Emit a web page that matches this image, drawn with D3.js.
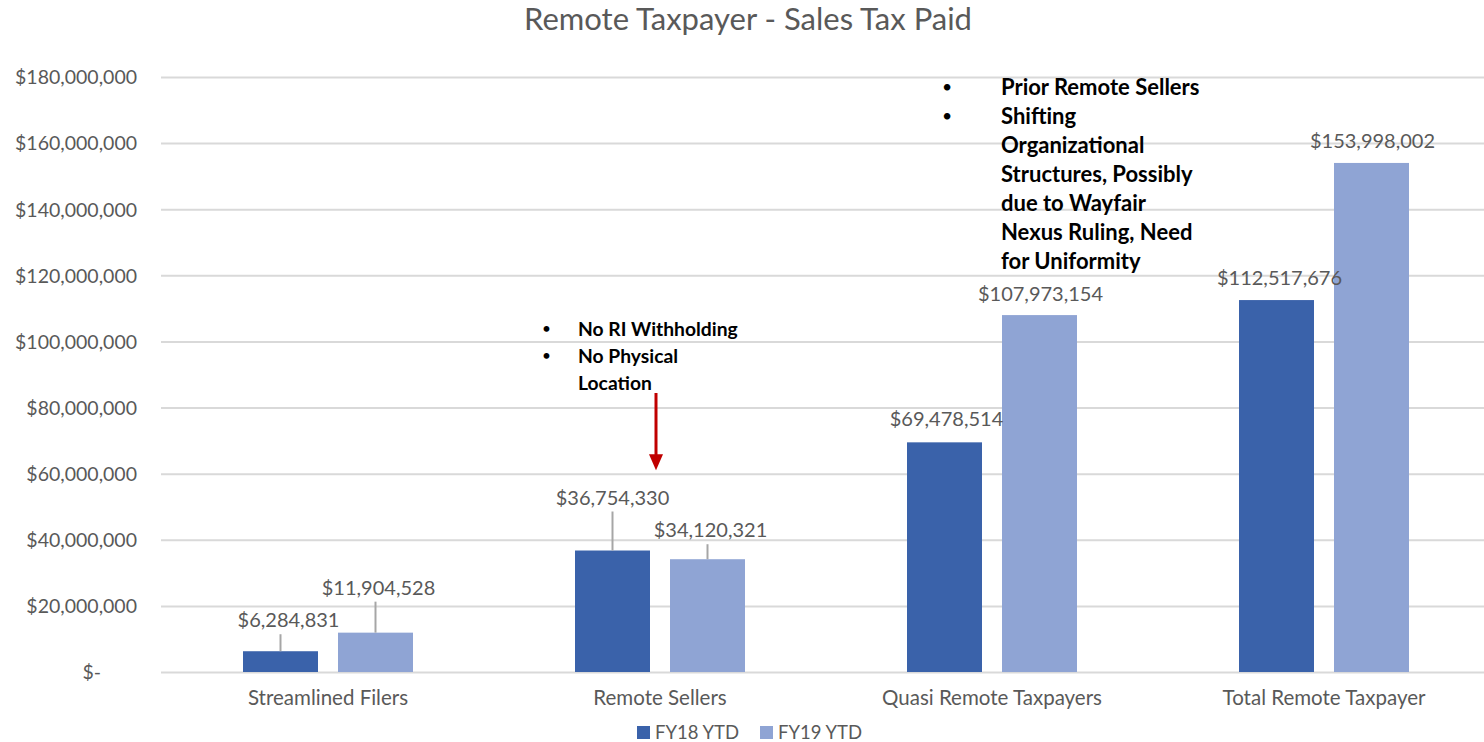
<!DOCTYPE html>
<html>
<head>
<meta charset="utf-8">
<script src="https://cdn.jsdelivr.net/npm/d3@7"></script>
<style>
  html, body { margin: 0; padding: 0; background: #fff; }
  svg { display: block; font-family: Lato, "Open Sans", sans-serif; }
</style>
</head>
<body>
<div id="chart"></div>
<script>
// data
const categories = ["Streamlined Filers", "Remote Sellers", "Quasi Remote Taxpayers", "Total Remote Taxpayer"];
const seriesNames = ["FY18 YTD", "FY19 YTD"];
const fy18 = [6284831, 36754330, 69478514, 112517676];
const fy19 = [11904528, 34120321, 107973154, 153998002];
const yTicks = [0, 20e6, 40e6, 60e6, 80e6, 100e6, 120e6, 140e6, 160e6, 180e6];
const noteRemote = ["No RI Withholding", "No Physical", "Location"];
const noteQuasi = ["Prior Remote Sellers", "Shifting", "Organizational", "Structures, Possibly",
                   "due to Wayfair", "Nexus Ruling, Need", "for Uniformity"];

// label nudges (pixels) as placed by hand in the original
const labelShift = [[[8, -31], [3, -45]], [[0, -53], [3, -29]], [[2, -23], [1, -21]], [[3, -22], [1, -22]]];

const W = 1484, H = 742;
const colors = ["#3A62AA", "#8FA4D4"];
const grey = "#595959";

const svg = d3.select("#chart").append("svg")
    .attr("width", W)
    .attr("height", H);

const x0 = d3.scaleBand().domain(categories).range([162, 1490]);
const x1 = d3.scaleBand().domain(seriesNames)
    .range([(x0.bandwidth() - 170) / 2, (x0.bandwidth() + 170) / 2])
    .paddingInner(20 / 95);
const y = d3.scaleLinear().domain([0, 180e6]).range([672, 77]);

// title
svg.append("text")
    .attr("x", 748)
    .attr("y", 19)
    .attr("dy", "0.35em")
    .attr("text-anchor", "middle")
    .style("font-size", "31px")
    .style("fill", grey)
    .text("Remote Taxpayer - Sales Tax Paid");

// gridlines + y labels
const yAxis = svg.append("g")
    .attr("transform", "translate(161,0)")
    .call(d3.axisLeft(y).tickValues(yTicks).tickSize(-(1490 - 161)).tickPadding(24)
        .tickFormat(d => d === 0 ? "$-" : "$" + d3.format(",")(d)));
yAxis.select(".domain").remove();
yAxis.selectAll(".tick line").attr("stroke", "#D9D9D9").attr("stroke-width", 2);
yAxis.selectAll(".tick text")
    .style("font-size", "19.5px")
    .style("font-family", "Lato, sans-serif")
    .attr("fill", grey)
    .attr("dy", "0.35em");
// "$-" sits further left in the original
yAxis.selectAll(".tick text").filter(d => d === 0).attr("x", -60).attr("text-anchor", "end");

// category labels
const xAxis = svg.append("g")
    .attr("transform", "translate(0,672)")
    .call(d3.axisBottom(x0).tickSize(0).tickPadding(18));
xAxis.select(".domain").remove();
xAxis.selectAll("text")
    .style("font-size", "20.5px")
    .style("font-family", "Lato, sans-serif")
    .attr("fill", grey);

// bars
const cellData = [];
categories.forEach((c, i) => {
    [fy18[i], fy19[i]].forEach((v, j) => {
        cellData.push({ cat: c, v, s: seriesNames[j], j, shift: labelShift[i][j] });
    });
});
const cx = d => x0(d.cat) + x1(d.s) + x1.bandwidth() / 2;

svg.append("g").selectAll("rect")
    .data(cellData)
    .enter().append("rect")
    .attr("x", d => x0(d.cat) + x1(d.s))
    .attr("y", d => y(d.v))
    .attr("width", x1.bandwidth())
    .attr("height", d => y(0) - y(d.v))
    .attr("fill", d => colors[d.j]);

// leader lines for labels dragged away from their bars
svg.append("g").selectAll("line")
    .data(cellData.filter(d => d.shift[1] < -25))
    .enter().append("line")
    .attr("x1", cx)
    .attr("x2", cx)
    .attr("y1", d => y(d.v))
    .attr("y2", d => y(d.v) + d.shift[1] + 14)
    .attr("stroke", "#A6A6A6")
    .attr("stroke-width", 2);

// labels sit above every bar
svg.append("g").selectAll("text")
    .data(cellData)
    .enter().append("text")
    .attr("x", d => cx(d) + d.shift[0])
    .attr("y", d => y(d.v) + d.shift[1])
    .attr("dy", "0.35em")
    .attr("text-anchor", "middle")
    .style("font-size", "20px")
    .style("fill", grey)
    .text(d => "$" + d3.format(",")(d.v));

// legend
const legend = svg.append("g").attr("transform", "translate(637,733)");
const legX = [0, 123];
seriesNames.forEach((s, j) => {
    legend.append("rect")
        .attr("x", legX[j]).attr("y", -7)
        .attr("width", 13).attr("height", 13)
        .attr("fill", colors[j]);
    legend.append("text")
        .attr("x", legX[j] + 18).attr("y", 0)
        .attr("dy", "0.35em")
        .style("font-size", "18.5px")
        .style("fill", grey)
        .text(s);
});

// annotations
function bulletNote(lines, bx, tx, top, lh, bulletsAt, size) {
    const g = svg.append("g");
    lines.forEach((t, k) => {
        if (bulletsAt.includes(k)) {
            g.append("text")
                .attr("x", bx).attr("y", top + k * lh)
                .attr("dy", "0.35em")
                .style("font-size", (size * 0.8) + "px")
                .style("fill", "#000")
                .text("•");
        }
        g.append("text")
            .attr("x", tx).attr("y", top + k * lh)
            .attr("dy", "0.35em")
            .style("font-size", size + "px")
            .style("font-weight", "bold")
            .style("fill", "#000")
            .text(t);
    });
}

const remoteMid = x0("Remote Sellers") + x0.bandwidth() / 2;
bulletNote(noteRemote, remoteMid - 118, remoteMid - 82, 329, 27, [0, 1], 19.3);

// red arrow pointing at the remote sellers bars
const ax = remoteMid - 4;
svg.append("line")
    .attr("x1", ax).attr("x2", ax)
    .attr("y1", 393).attr("y2", y(61e6) - 14)
    .attr("stroke", "#C00000")
    .attr("stroke-width", 3);
svg.append("path")
    .attr("d", `M${ax - 7},${y(61e6) - 16} L${ax + 7},${y(61e6) - 16} L${ax},${y(61e6)} Z`)
    .attr("fill", "#C00000");

const quasiMid = x0("Quasi Remote Taxpayers") + x0.bandwidth() / 2;
bulletNote(noteQuasi, quasiMid - 50, quasiMid + 9, 87, 29, [0, 1], 22);
</script>
</body>
</html>
